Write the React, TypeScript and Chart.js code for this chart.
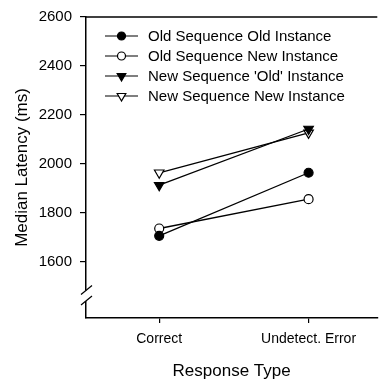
import React, { useEffect, useRef } from "react";
import { Chart, registerables } from "chart.js";

Chart.register(...registerables);

const categories = ["Correct", "Undetect. Error"];
const seriesLabels = [
  "Old Sequence Old Instance",
  "Old Sequence New Instance",
  "New Sequence 'Old' Instance",
  "New Sequence New Instance",
];
const oldSeqOldInst = [1705, 1963];
const oldSeqNewInst = [1735, 1855];
const newSeqOldInst = [1912, 2142];
const newSeqNewInst = [1963, 2126];
const yTicks = [1600, 1800, 2000, 2200, 2400, 2600];

const FONT = "'Liberation Sans', Arial, sans-serif";

const markerStyles = [
  { style: "circle", fill: "#000", rot: 0, r: 4.5, lr: 4 },
  { style: "circle", fill: "#fff", rot: 0, r: 4.5, lr: 4 },
  { style: "triangle", fill: "#000", rot: 180, r: 5.5, lr: 5 },
  { style: "triangle", fill: "#fff", rot: 180, r: 5.5, lr: 5 },
];

function drawMarker(ctx: CanvasRenderingContext2D, kind: string, x: number, y: number, r: number, fill: string) {
  ctx.save();
  ctx.beginPath();
  if (kind === "circle") {
    ctx.arc(x, y, r, 0, Math.PI * 2);
  } else {
    const a = Math.PI;
    for (let k = 0; k < 3; k++) {
      const ang = a + (k * 2 * Math.PI) / 3;
      const px = x + Math.sin(ang) * r;
      const py = y - Math.cos(ang) * r;
      if (k === 0) ctx.moveTo(px, py);
      else ctx.lineTo(px, py);
    }
    ctx.closePath();
  }
  ctx.fillStyle = fill;
  ctx.fill();
  ctx.lineWidth = 1.2;
  ctx.strokeStyle = "#000";
  ctx.stroke();
  ctx.restore();
}

const decorPlugin = {
  id: "decor",
  afterDraw(chart: any) {
    const ctx = chart.ctx as CanvasRenderingContext2D;
    const area = chart.chartArea;
    const ys = chart.scales.y;
    ctx.save();
    ctx.strokeStyle = "#000";
    ctx.lineWidth = 1.5;
    ctx.beginPath();
    ctx.moveTo(area.left - 1, area.top);
    ctx.lineTo(area.right, area.top);
    ctx.stroke();

    // axis break
    const base = ys.getPixelForValue(1600);
    const yUp = base + 29;
    const yLo = base + 39.5;
    ctx.fillStyle = "#fff";
    ctx.fillRect(area.left - 2, yUp, 4, yLo - yUp);
    ctx.lineWidth = 1.2;
    ctx.beginPath();
    ctx.moveTo(area.left - 5, yUp + 4);
    ctx.lineTo(area.left + 6, yUp - 5);
    ctx.moveTo(area.left - 5, yLo + 4);
    ctx.lineTo(area.left + 6, yLo - 5);
    ctx.stroke();

    // legend
    ctx.font = `15px ${FONT}`;
    ctx.textBaseline = "middle";
    ctx.fillStyle = "#000";
    chart.data.datasets.forEach((ds: any, i: number) => {
      const y = area.top + 19 + i * 20;
      const x0 = area.left + 19;
      const x1 = area.left + 52;
      ctx.strokeStyle = "#000";
      ctx.lineWidth = 1.2;
      ctx.beginPath();
      ctx.moveTo(x0, y);
      ctx.lineTo(x1, y);
      ctx.stroke();
      const m = markerStyles[i];
      drawMarker(ctx, m.style, (x0 + x1) / 2, y, m.lr, m.fill);
      ctx.fillStyle = "#000";
      ctx.fillText(ds.label, area.left + 62, y + 1);
    });
    ctx.restore();
  },
};

export default function App() {
  const ref = useRef<HTMLCanvasElement | null>(null);
  useEffect(() => {
    document.body.style.margin = "0";
    const canvas = ref.current;
    if (!canvas) return;
    const seriesValues = [oldSeqOldInst, oldSeqNewInst, newSeqOldInst, newSeqNewInst];
    const chart = new Chart(canvas, {
      type: "line",
      data: {
        datasets: seriesValues.map((vals, i) => ({
          label: seriesLabels[i],
          data: vals.map((v, j) => ({ x: j, y: v })),
          borderColor: "#000",
          borderWidth: 1.3,
          pointStyle: markerStyles[i].style as any,
          pointRotation: markerStyles[i].rot,
          pointRadius: markerStyles[i].r,
          pointBackgroundColor: markerStyles[i].fill,
          pointBorderColor: "#000",
          pointBorderWidth: 1.2,
          fill: false,
          tension: 0,
        })),
      },
      options: {
        animation: false,
        responsive: false,
        events: [],
        layout: { padding: { top: 9, right: 0, left: 0, bottom: 0 } },
        plugins: { legend: { display: false }, tooltip: { enabled: false } },
        scales: {
          x: {
            type: "linear",
            min: -0.49,
            max: 1.46,
            afterBuildTicks: (s: any) => {
              s.ticks = categories.map((_, i) => ({ value: i }));
            },
            afterFit: (s: any) => {
              s.height = 62;
            },
            ticks: {
              callback: (v: any) => categories[v as number] ?? "",
              font: { family: FONT, size: 14 },
              color: "#000",
              padding: 8,
              maxRotation: 0,
            },
            grid: {
              display: true,
              drawOnChartArea: false,
              drawTicks: true,
              tickLength: 5,
              color: "#000",
              lineWidth: 1.2,
            },
            border: { display: true, color: "#000", width: 1.5 },
            title: {
              display: true,
              text: "Response Type",
              font: { family: FONT, size: 17 },
              color: "#000",
              padding: { top: 0, bottom: -2 },
            },
          },
          y: {
            type: "linear",
            min: 1369,
            max: 2600,
            afterBuildTicks: (s: any) => {
              s.ticks = yTicks.map((v) => ({ value: v }));
            },
            afterFit: (s: any) => {
              s.width = 86;
            },
            ticks: {
              callback: (v: any) => String(v),
              font: { family: FONT, size: 15 },
              color: "#000",
              padding: 8,
            },
            grid: {
              display: true,
              drawOnChartArea: false,
              drawTicks: true,
              tickLength: 6,
              color: "#000",
              lineWidth: 1.2,
            },
            border: { display: true, color: "#000", width: 1.5 },
            title: {
              display: true,
              text: "Median Latency (ms)",
              font: { family: FONT, size: 17 },
              color: "#000",
              padding: { top: 12, bottom: 0 },
            },
          },
        },
      },
      plugins: [decorPlugin],
    });
    return () => chart.destroy();
  }, []);
  return (
    <div style={{ width: 384, height: 380, background: "#fff" }}>
      <canvas ref={ref} width={384} height={380} style={{ display: "block" }} />
    </div>
  );
}
